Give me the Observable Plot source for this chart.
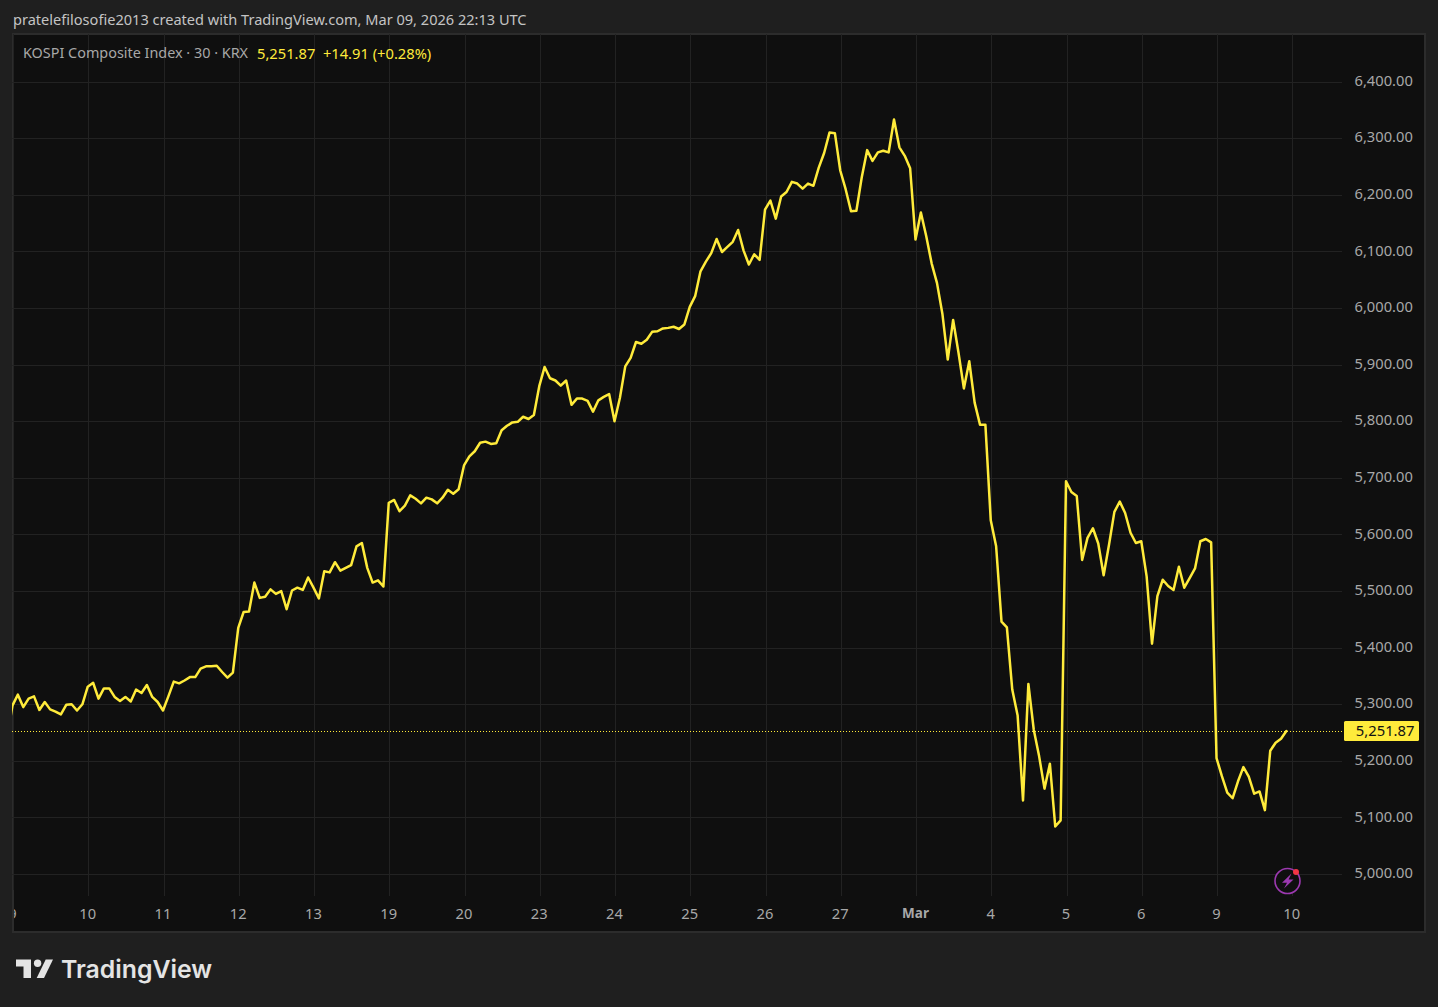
<!DOCTYPE html>
<html><head><meta charset="utf-8">
<script src="https://cdn.jsdelivr.net/npm/d3@7"></script>
<script src="https://cdn.jsdelivr.net/npm/@observablehq/plot@0.6"></script>
<style>
html,body{margin:0;padding:0;background:#1f1f1f;overflow:hidden}
#page{position:relative;width:1438px;height:1007px;font-family:"Noto Sans",sans-serif}
#panel{position:absolute;left:12px;top:33px;width:1410px;height:896px;background:#0f0f0f;border:2px solid #2c2c2c}
#chart{position:absolute;left:-1px;top:-1px}
#strip{position:absolute;left:0;top:890px;width:12px;height:41px;background:#1f1f1f;border-right:2px solid #2c2c2c}
.t{position:absolute;white-space:pre;line-height:20px}
</style></head><body>
<div id="page">
  <div id="panel"></div>
  <div id="chart"></div>
  <div id="strip"></div>
  <div class="t" id="credit" style="left:13px;top:9px;font-size:14.57px;color:#c4c4c4">pratelefilosofie2013 created with TradingView.com, Mar 09, 2026 22:13 UTC</div>
  <div class="t" id="name" style="left:23px;top:43px;font-size:14.4px;color:#a8a8a8">KOSPI Composite Index · 30 · KRX</div>
  <div class="t" id="quote" style="left:257px;top:43px;font-size:14.7px;color:#ffeb3b">5,251.87  +14.91 (+0.28%)</div>
  <svg style="position:absolute;left:0;top:0" width="1438" height="1007">
    <path d="M16 959.5H31V978H23.5V966.5H16Z" fill="#e4e4e4"/>
    <circle cx="37.6" cy="963.2" r="3.7" fill="#e4e4e4"/>
    <path d="M45.7 959.5H53L44 978H36.7Z" fill="#e4e4e4"/>
    <circle cx="1287.5" cy="881" r="12.5" fill="#0f0f0f" stroke="#9c39b0" stroke-width="1.6"/>
    <path d="M1291.5 873.5L1282 882.8H1287L1284 888.5L1293.5 879.4H1288.6Z" fill="#9c39b0"/>
    <circle cx="1296" cy="872" r="3" fill="#f23645"/>
  </svg>
  <div class="t" id="brand" style="left:61px;top:954px;line-height:30px;font-family:Inter,sans-serif;font-weight:600;font-size:24.8px;color:#e4e4e4">TradingView</div>
</div>
<script>
const closes = [5240,
5297,5316,5294,5309,5313,5289,5303,5290,5286,5281,5298,5299,5288,5299,
5330,5337,5309,5327,5327,5312,5305,5312,5304,5325,5319,5333,5312,5303,
5288,5313,5339,5336,5341,5347,5347,5362,5366,5366,5367,5356,5346,5355,
5434,5462,5463,5514,5487,5489,5502,5494,5499,5467,5500,5505,5501,5523,
5505,5486,5534,5532,5550,5535,5540,5545,5578,5584,5540,5514,5518,5507,
5655,5660,5640,5650,5668,5662,5654,5664,5661,5654,5664,5678,5671,5679,
5721,5737,5746,5761,5763,5759,5760,5783,5791,5797,5798,5807,5803,5810,
5861,5895,5875,5871,5862,5871,5828,5839,5839,5835,5816,5836,5842,5847,
5799,5840,5896,5911,5939,5936,5943,5957,5958,5963,5964,5966,5962,5970,
6001,6020,6064,6081,6096,6121,6098,6107,6116,6137,6101,6076,6094,6084,
6173,6189,6157,6196,6204,6222,6219,6210,6219,6215,6247,6273,6309,6308,
6242,6209,6170,6171,6230,6278,6259,6274,6277,6274,6332,6283,6268,6246,
6120,6168,6126,6078,6043,5989,5908,5978,5920,5857,5905,5832,5793,5793,
5624,5578,5445,5435,5325,5279,5129,5335,5254,5207,5150,5194,5083,5094,
5693,5674,5667,5554,5593,5610,5583,5527,5581,5639,5657,5637,5602,5584,
5587,5525,5406,5490,5519,5508,5501,5542,5505,5522,5539,5587,5591,5585,
5204,5172,5143,5133,5163,5188,5171,5141,5145,5112,5217,5231,5238,5251.87];
const barIndex = closes.map((_, i) => i - 1);
const barsPerDay = 14;
const dayLabels = ["9","10","11","12","13","19","20","23","24","25","26","27","Mar","4","5","6","9","10"];
const dayTicks = dayLabels.map((_, i) => i * barsPerDay);
const priceTicks = [5000,5100,5200,5300,5400,5500,5600,5700,5800,5900,6000,6100,6200,6300,6400];
const lastPrice = 5251.87;

const plainTicks = dayTicks.filter((_, i) => dayLabels[i] !== "Mar");
const boldTicks = dayTicks.filter((_, i) => dayLabels[i] === "Mar");
const labelOf = v => dayLabels[v / barsPerDay];
const fmt = d3.format(",.2f");

const priceTag = (index, {y}) => {
  const g = d3.create("svg:g");
  g.append("rect").attr("x",1345).attr("y",Math.round(y(lastPrice))-9).attr("width",75).attr("height",20).attr("rx",1.5).attr("fill","#ffeb3b");
  g.append("text").attr("x",1415.5).attr("y",y(lastPrice)+5.5).attr("text-anchor","end")
    .attr("fill","#131313").attr("font-size",14.8).text(fmt(lastPrice));
  return g.node();
};

const chart = Plot.plot({
  width:1439, height:1008,
  marginLeft:13, marginRight:96, marginTop:35, marginBottom:111,
  style:{background:"transparent",fontFamily:'"Noto Sans",sans-serif',fontSize:"14.7px",color:"#a8a8a8"},
  x:{type:"linear",domain:[0,247.44]},
  y:{type:"linear",domain:[4959.4,6482.3]},
  marks:[
    Plot.gridX(dayTicks,{stroke:"#222222",strokeOpacity:1,strokeWidth:1,shapeRendering:"crispEdges",dx:1}),
    Plot.gridY(priceTicks,{stroke:"#222222",strokeOpacity:1,strokeWidth:1,shapeRendering:"crispEdges",dy:1}),
    Plot.ruleY([lastPrice],{stroke:"#ffeb3b",strokeWidth:1,strokeDasharray:"1,2",shapeRendering:"crispEdges",dy:1}),
    Plot.line(closes,{x:barIndex,y:closes,stroke:"#ffeb3b",strokeWidth:2.5,clip:true}),
    Plot.axisY(priceTicks,{anchor:"right",label:null,tickSize:0,tickPadding:12,textAnchor:"start",tickFormat:fmt,fill:"#a8a8a8"}),
    Plot.axisX(plainTicks,{anchor:"bottom",label:null,tickSize:0,tickPadding:12,tickFormat:labelOf,fill:"#a8a8a8"}),
    Plot.axisX(boldTicks,{anchor:"bottom",label:null,tickSize:0,tickPadding:12,tickFormat:labelOf,fill:"#a8a8a8",fontWeight:700,fontSize:13.5}),
    priceTag
  ]
});
document.getElementById("chart").appendChild(chart);
</script>
</body></html>
